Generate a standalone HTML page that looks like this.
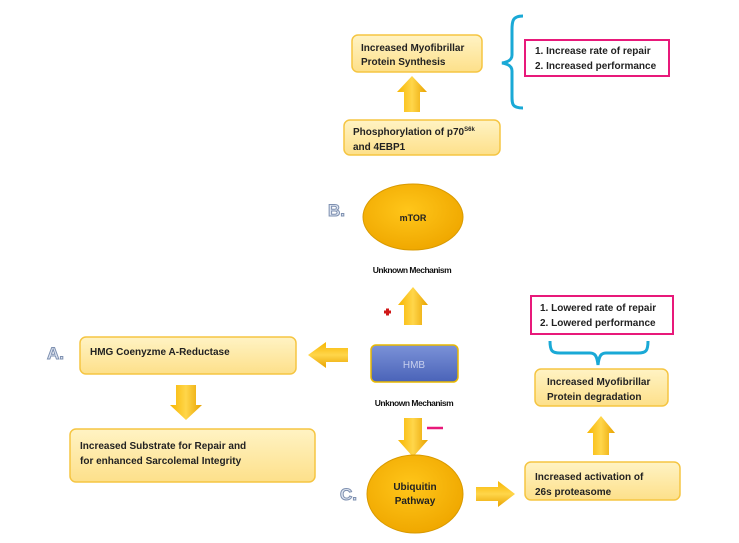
<!DOCTYPE html>
<html><head><meta charset="utf-8"><style>
html,body{margin:0;padding:0;background:#fff;}
svg{display:block;font-family:"Liberation Sans",sans-serif;}
</style></head><body>
<svg width="739" height="543" viewBox="0 0 739 543" xmlns="http://www.w3.org/2000/svg">
<defs>
<linearGradient id="bx" x1="0" y1="0" x2="0" y2="1"><stop offset="0" stop-color="#fff3c4"/><stop offset="1" stop-color="#fde08a"/></linearGradient>
<linearGradient id="ar" x1="0" y1="0" x2="1" y2="0"><stop offset="0" stop-color="#f7b500"/><stop offset="0.5" stop-color="#ffd64a"/><stop offset="1" stop-color="#e8a200"/></linearGradient>
<linearGradient id="arv" x1="0" y1="0" x2="0" y2="1"><stop offset="0" stop-color="#f7b500"/><stop offset="0.5" stop-color="#ffd64a"/><stop offset="1" stop-color="#e8a200"/></linearGradient>
<radialGradient id="el" cx="0.45" cy="0.4" r="0.6"><stop offset="0" stop-color="#ffc61a"/><stop offset="1" stop-color="#f0a800"/></radialGradient>
<linearGradient id="hm" x1="0" y1="0" x2="0" y2="1"><stop offset="0" stop-color="#7b92d8"/><stop offset="1" stop-color="#4a63b8"/></linearGradient>
</defs>
<g stroke="#f5c542" stroke-width="1.5" fill="url(#bx)">
<rect x="352" y="35" width="130" height="37" rx="6"/>
<rect x="344" y="120" width="156" height="35" rx="6"/>
<rect x="80" y="337" width="216" height="37" rx="6"/>
<rect x="70" y="429" width="245" height="53" rx="6"/>
<rect x="535" y="369" width="133" height="37" rx="6"/>
<rect x="525" y="462" width="155" height="38" rx="6"/>
</g>
<g fill="url(#ar)">
<path d="M404 112 L404 92 L397 92 L412 76 L427 92 L420 92 L420 112Z"/>
<path d="M404 325 L404 305 L398 305 L413 287 L428 305 L422 305 L422 325Z"/>
<path d="M404 418 L404 440 L398 440 L413 457 L428 440 L422 440 L422 418Z"/>
<path d="M176 385 L176 405 L170 405 L186 420 L202 405 L196 405 L196 385Z"/>
<path d="M593 455 L593 433 L587 433 L601 416 L615 433 L609 433 L609 455Z"/>
</g>
<g fill="url(#arv)">
<path d="M348 348 L326 348 L326 342 L308 355 L326 368 L326 362 L348 362Z"/>
<path d="M476 487 L498 487 L498 481 L515 494 L498 507 L498 501 L476 501Z"/>
</g>
<ellipse cx="413" cy="217" rx="50" ry="33" fill="url(#el)" stroke="#d99a00"/>
<ellipse cx="415" cy="494" rx="48" ry="39" fill="url(#el)" stroke="#d99a00"/>
<rect x="371" y="345" width="87" height="37" rx="5" fill="url(#hm)" stroke="#e8b800" stroke-width="1.5"/>
<text x="414" y="368" font-size="10" fill="#c8d0ee" text-anchor="middle">HMB</text>
<path d="M523 16 C512 16 512 22 512 30 L512 55 C512 60 508 62 502 63 C508 64 512 66 512 71 L512 96 C512 104 512 108 523 108" fill="none" stroke="#1aa9d6" stroke-width="3"/>
<path d="M550 341 C550 351 552 353 560 353 L590 353 C595 353 597 356 598 365 C599 356 601 353 606 353 L638 353 C646 353 648 351 648 341" fill="none" stroke="#1aa9d6" stroke-width="3"/>
<rect x="525" y="40" width="144" height="36" fill="#fff" stroke="#e8197a" stroke-width="2"/>
<rect x="531" y="296" width="142" height="38" fill="#fff" stroke="#e8197a" stroke-width="2"/>
<g font-size="10" font-weight="bold" fill="#222">
<text x="361" y="51">Increased Myofibrillar</text>
<text x="361" y="65">Protein Synthesis</text>
<text x="353" y="135">Phosphorylation of p70<tspan font-size="6" dy="-4">S6k</tspan></text>
<text x="353" y="150">and 4EBP1</text>
<text x="535" y="54">1. Increase rate of repair</text>
<text x="535" y="69">2. Increased performance</text>
<text x="540" y="311">1. Lowered rate of repair</text>
<text x="540" y="326">2. Lowered performance</text>
<text x="547" y="385">Increased Myofibrillar</text>
<text x="547" y="400">Protein degradation</text>
<text x="535" y="480">Increased activation of</text>
<text x="535" y="495">26s proteasome</text>
<text x="90" y="355">HMG Coenyzme A-Reductase</text>
<text x="80" y="449">Increased Substrate for Repair and</text>
<text x="80" y="464">for enhanced Sarcolemal Integrity</text>
<text x="413" y="221" text-anchor="middle" font-size="9">mTOR</text>
<text x="415" y="490" text-anchor="middle">Ubiquitin</text>
<text x="415" y="504" text-anchor="middle">Pathway</text>
</g>
<g font-size="8.5" font-weight="bold" fill="#111" text-anchor="middle" letter-spacing="-0.5">
<text x="412" y="273">Unknown Mechanism</text>
<text x="414" y="406">Unknown Mechanism</text>
</g>
<g font-size="17" font-weight="bold" fill="#dfe6f2" stroke="#7e90b0" stroke-width="1">
<text x="328" y="216">B.</text>
<text x="47" y="359">A.</text>
<text x="340" y="500">C.</text>
</g>
<path d="M384 312 h7 M387.5 308.5 v7" stroke="#d01818" stroke-width="3"/>
<path d="M427 428 h16" stroke="#e8197a" stroke-width="2.5"/>
</svg>
</body></html>
